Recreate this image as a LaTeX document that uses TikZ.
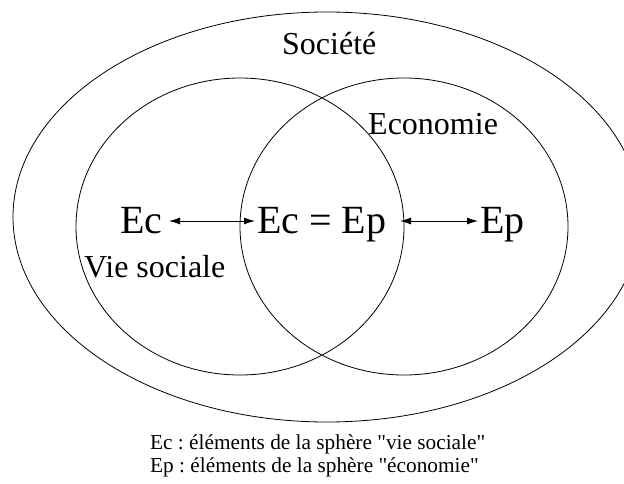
\documentclass[tikz,border=0pt]{standalone}
\usepackage{fontspec}
\setmainfont{Liberation Serif}[Ligatures=TeXOff]
\usetikzlibrary{arrows.meta}
\frenchspacing
\begin{document}
\begin{tikzpicture}[x=1pt,y=-1pt,
  ring/.style={draw=black,line width=0.8pt},
  lbl/.style={inner sep=0pt,anchor=base west,font=\fontsize{32}{38}\selectfont},
  big/.style={inner sep=0pt,anchor=base west,font=\fontsize{40}{48}\selectfont},
  leg/.style={inner sep=0pt,anchor=base west,font=\fontsize{21.3}{25}\selectfont},
  arr/.style={line width=0.8pt,{Latex[length=11pt,width=7pt]}-{Latex[length=11pt,width=7pt]}}]
\useasboundingbox (0,0) rectangle (624,484);
\begin{scope}
\clip (0,0) rectangle (624,484);
\draw[ring] (327,217) ellipse [x radius=314pt, y radius=205pt];
\end{scope}
\draw[ring] (240,226.5) ellipse [x radius=164pt, y radius=148.5pt];
\draw[ring] (404,226.5) ellipse [x radius=164pt, y radius=148.5pt];
\node[lbl] (soc) at (282,55) {Société};
\node[lbl] (eco) at (368,135) {Economie};
\node[lbl] (vie) at (84,277) {Vie sociale};
\node[big] (ec) at (120,233) {Ec};
\node[big] (eq) at (257,233) {Ec = Ep};
\node[big] (ep) at (480,233) {Ep};
\coordinate (a1) at (169,221);
\coordinate (a2) at (255,221);
\coordinate (a3) at (400,221);
\coordinate (a4) at (478,221);
\draw[arr] (a1) -- (a2);
\draw[arr] (a3) -- (a4);
\node[leg] (l1) at (150,449) {Ec : éléments de la sphère "vie sociale"};
\node[leg] (l2) at (150,472) {Ep : éléments de la sphère "économie"};
\end{tikzpicture}
\end{document}
